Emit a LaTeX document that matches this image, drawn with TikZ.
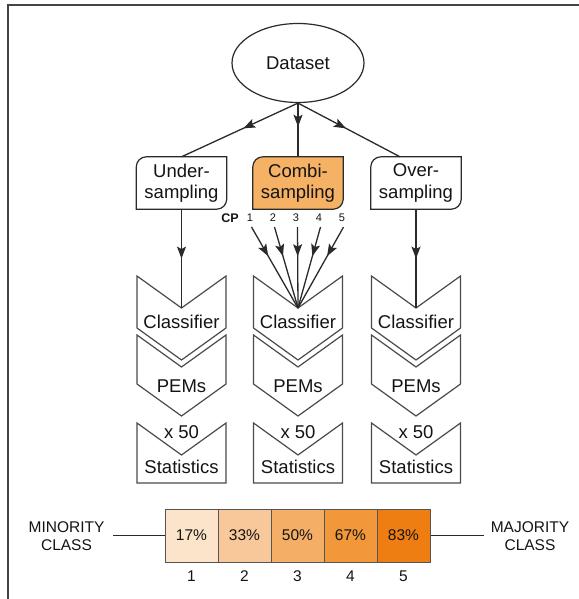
\documentclass[tikz,border=0pt]{standalone}
\usepackage{fontspec}
\setmainfont{Liberation Sans}
\usetikzlibrary{arrows.meta,decorations.markings,shapes.geometric,calc}
\pgfdeclarelayer{background}
\pgfsetlayers{background,main}
\definecolor{ln}{HTML}{2A2A2A}
\definecolor{frm}{HTML}{444444}
\definecolor{txt}{HTML}{141414}
\definecolor{combi}{HTML}{F5B265}
\definecolor{cA}{HTML}{FCE4CA}
\definecolor{cB}{HTML}{F8C89A}
\definecolor{cC}{HTML}{F5AE66}
\definecolor{cD}{HTML}{F2973A}
\definecolor{cE}{HTML}{EF7E12}
\tikzset{
  big/.style={font=\fontsize{18.5}{21.5}\selectfont, text=txt, inner sep=0pt, align=center},
  midtext/.style={font=\fontsize{15.5}{18}\selectfont, text=txt, inner sep=0pt, align=center},
  cpnum/.style={font=\fontsize{11}{12}\selectfont, text=txt, inner sep=0pt},
  sbox/.style={big, minimum width=90pt, minimum height=52pt},
  cell/.style={draw=ln!80, line width=1pt, minimum width=53pt, minimum height=53pt, inner sep=0pt, font=\fontsize{15.5}{18}\selectfont, text=txt},
  chevline/.style={draw=ln!85, line width=1.2pt},
  conn/.style={draw=ln, line width=1.3pt},
  midarrow/.style={conn, postaction={decorate}, decoration={markings, mark=at position #1 with {\arrow{Stealth[length=12pt,width=9pt,inset=2.5pt]}}}},
}
\newcommand\sampshape[2]{%
  \draw[line width=1.2pt, draw=ln, fill=#2]
    ([yshift=-10pt]#1.north west) .. controls ([yshift=-4.5pt]#1.north west) and ([xshift=4.5pt]#1.north west) .. ([xshift=10pt]#1.north west)
    -- (#1.north east)
    -- ([yshift=10pt]#1.south east) .. controls ([yshift=4.5pt]#1.south east) and ([xshift=-4.5pt]#1.south east) .. ([xshift=-10pt]#1.south east)
    -- (#1.south west) -- cycle;}
\newcommand\chevshape[3]{%
  \draw[chevline] (#1-44.5,#2) -- (#1,#2+32) -- (#1+44.5,#2) -- (#1+44.5,#3) -- (#1,#3+32) -- (#1-44.5,#3) -- cycle;}
\newcommand\statshape[1]{%
  \draw[chevline] (#1-44.5,423) -- (#1,455) -- (#1+44.5,423) -- (#1+44.5,483) -- (#1-44.5,483) -- cycle;}
\begin{document}
\begin{tikzpicture}[x=1pt,y=-1pt]
\useasboundingbox (0,0) rectangle (578,599);
% frame
\draw[draw=frm, line width=1.5pt] (8,600) -- (8,5) -- (579,5);

% dataset
\node[ellipse, draw=ln, line width=1.2pt, minimum width=132pt, minimum height=79pt, inner sep=0pt, big] (ds) at (298,63) {Dataset};

% sampling boxes
\node[sbox] (under) at (181.5,183) {Under-\\sampling};
\node[sbox] (combi) at (298,183) {Combi-\\sampling};
\node[sbox] (over) at (416,183) {Over-\\sampling};
\begin{pgfonlayer}{background}
\sampshape{under}{white}
\sampshape{combi}{combi}
\sampshape{over}{white}
\end{pgfonlayer}

% arrows from dataset
\draw[midarrow=0.47] (ds.south) -- (under.north);
\draw[midarrow=0.44] (ds.south) -- (combi.north);
\draw[midarrow=0.47] (ds.south) -- ([xshift=-16pt]over.north);

% chevrons
\foreach \cx in {181.5,298,416}{
  \chevshape{\cx}{276}{328}
  \chevshape{\cx}{335}{384}
  \statshape{\cx}
}
\coordinate (tipL) at (181.5,308);
\coordinate (tipM) at (298,308);
\coordinate (tipR) at (416,308);

\foreach \nm/\cx in {L/181.5,M/298,R/416}{
  \node[big] (cls\nm) at (\cx,322) {Classifier};
  \node[big] (pem\nm) at (\cx,386) {PEMs};
  \node[big] (x50\nm) at (\cx,432) {x 50};
  \node[big] (sta\nm) at (\cx,467) {Statistics};
}

% under / over arrows
\draw[midarrow=0.5] (under.south) -- (tipL);
\draw[midarrow=0.5] (over.south) -- (tipR);

% CP labels and arrows
\node[font=\bfseries\fontsize{12.5}{14}\selectfont, text=txt, inner sep=0pt] (cp) at (230,218) {CP};
\foreach \i/\cx in {1/250,2/273,3/296,4/319,5/342}{
  \node[cpnum] (n\i) at (\cx,218) {\i};
  \draw[midarrow=0.36] ([xshift=1.5pt,yshift=-5pt]n\i.south) -- (tipM);
}

% bottom bar
\foreach \i/\c/\p in {1/cA/17,2/cB/33,3/cC/50,4/cD/67,5/cE/83}{
  \node[cell, fill=\c] (c\i) at (165+53*\i-26.5,535.5) {\p\%};
  \node[midtext] (k\i) at (165+53*\i-26.5,576) {\i};
}
\node[midtext] (minor) at (66.5,536) {MINORITY\\CLASS};
\node[midtext] (major) at (530,536) {MAJORITY\\CLASS};
\coordinate (lstart) at (113,535.5);
\coordinate (rend) at (484,535.5);
\draw[conn, line width=1.1pt] (lstart) -- (c1.west);
\draw[conn, line width=1.1pt] (c5.east) -- (rend);
\end{tikzpicture}
\end{document}
